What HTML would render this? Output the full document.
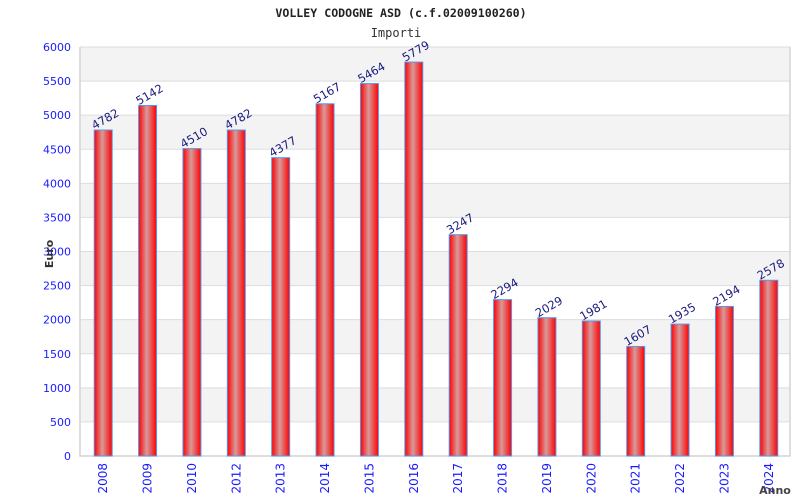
<!DOCTYPE html>
<html><head><meta charset="utf-8">
<style>
body{margin:0;background:#fff;}
svg{display:block;font-family:"DejaVu Sans","Liberation Sans",sans-serif;}
</style></head>
<body>
<svg id="chart" width="800" height="500" viewBox="0 0 800 500" xmlns="http://www.w3.org/2000/svg">
<defs>
<linearGradient id="barg" x1="0" x2="1" y1="0" y2="0">
<stop offset="0" stop-color="#ff0000"/>
<stop offset="0.45" stop-color="#d89a9a"/>
<stop offset="1" stop-color="#ff0000"/>
</linearGradient>
</defs>
<text x="401" y="17" text-anchor="middle" font-family="'DejaVu Sans Mono','Liberation Mono',monospace" font-weight="bold" font-size="11.6" fill="#222">VOLLEY CODOGNE ASD (c.f.02009100260)</text>
<text x="396" y="37" text-anchor="middle" font-family="'DejaVu Sans Mono','Liberation Mono',monospace" font-size="12" fill="#333">Importi</text>
<g id="grid"></g>
<g id="bars"></g>
<text transform="translate(53,254) rotate(-90)" text-anchor="middle" font-size="11" font-weight="bold" fill="#333">Euro</text>
<text x="775" y="494" text-anchor="middle" font-size="11" font-weight="bold" fill="#444">Anno</text>
</svg>
<script>
const categories=["2008","2009","2010","2012","2013","2014","2015","2016","2017","2018","2019","2020","2021","2022","2023","2024"];
const values=[4782,5142,4510,4782,4377,5167,5464,5779,3247,2294,2029,1981,1607,1935,2194,2578];
const yTicks=[0,500,1000,1500,2000,2500,3000,3500,4000,4500,5000,5500,6000];
const NS="http://www.w3.org/2000/svg";
const L=80,R=790,T=47,B=456,YMAX=6000;
const y=v=>B-(v/YMAX)*(B-T);
const slot=(R-L)/categories.length;
const x=i=>L+slot*(i+0.5);
function mk(tag,attrs,parent){const e=document.createElementNS(NS,tag);for(const k in attrs)e.setAttribute(k,attrs[k]);parent.appendChild(e);return e;}
const grid=document.getElementById('grid'),bars=document.getElementById('bars');
for(let i=0;i<yTicks.length-1;i++){
  const r=mk('rect',{x:L,y:y(yTicks[i+1]),width:R-L,height:y(yTicks[i])-y(yTicks[i+1]),fill:(i%2===1)?'#f3f3f3':'#ffffff'},grid);
  
  
}
yTicks.forEach(t=>{
  const ln=mk('line',{x1:L,x2:R,y1:y(t),y2:y(t),stroke:'#dddddd','stroke-width':1},grid);
  
  
  const tx=mk('text',{x:71,y:y(t)+4,'text-anchor':'end','font-size':11,fill:'#1a1aff'},grid);
  tx.textContent=t;
  
  
});
const ax=mk('path',{d:`M${L},${T} V${B} H${R} V${T}`,fill:'none',stroke:'#d4d4d4','stroke-width':1.5},grid);


const bw=18;
categories.forEach((c,i)=>{
  const cx=x(i)+1,top=y(values[i]);
  const b=mk('rect',{x:cx-bw/2,y:top,width:bw,height:B-top,fill:'url(#barg)',stroke:'#5599ee','stroke-width':1},bars);
  
  
  const v=mk('text',{x:cx+2,y:top-7,'text-anchor':'middle','font-size':11.5,fill:'#1a1a80',transform:`rotate(-30 ${cx+2} ${top-11})`},bars);
  v.textContent=values[i];
  
  
  const xl=mk('text',{x:0,y:0,'text-anchor':'end','font-size':12,fill:'#1a1aff',transform:`translate(${cx+4},${B+7}) rotate(-90)`},bars);
  xl.textContent=c;
  
  
});
</script>
</body></html>
